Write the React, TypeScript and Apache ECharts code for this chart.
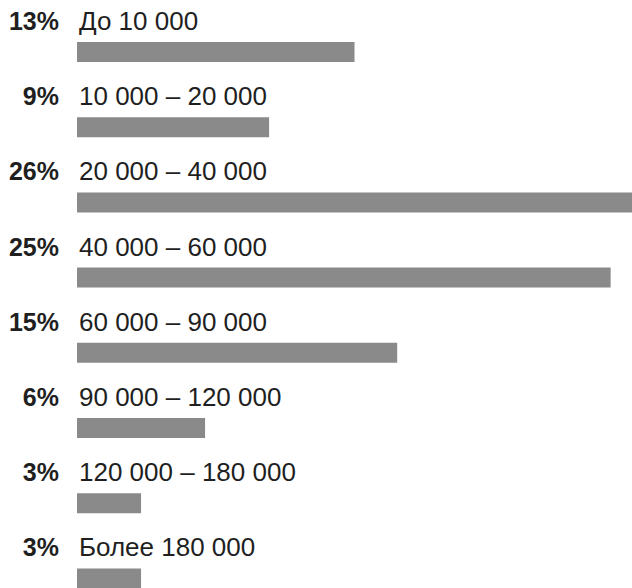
import React, { useEffect, useRef } from "react";
import * as echarts from "echarts";

const categories = [
  "До 10 000",
  "10 000 – 20 000",
  "20 000 – 40 000",
  "40 000 – 60 000",
  "60 000 – 90 000",
  "90 000 – 120 000",
  "120 000 – 180 000",
  "Более 180 000",
];
const values = [13, 9, 26, 25, 15, 6, 3, 3];
const percentLabels = values.map((v) => `${v}%`);

export default function App() {
  const ref = useRef<HTMLDivElement>(null);
  useEffect(() => {
    if (!ref.current) return;
    const chart = echarts.init(ref.current, null, { renderer: "svg" });
    chart.setOption({
      animation: false,
      backgroundColor: "#ffffff",
      grid: {
        left: 77,
        top: 14.4,
        width: 555,
        height: 601.6,
        containLabel: false,
        outerBoundsMode: "none",
      },
      xAxis: {
        type: "value",
        min: 0,
        max: 26,
        show: false,
      },
      yAxis: {
        type: "category",
        data: categories,
        inverse: true,
        axisLine: { show: false },
        axisTick: { show: false },
        splitLine: { show: false },
        axisLabel: {
          interval: 0,
          showMinLabel: true,
          showMaxLabel: true,
          hideOverlap: false,
          margin: 18,
          align: "right",
          verticalAlign: "middle",
          formatter: (_: any, i: number) => `{a|${percentLabels[i]}}\n{b|}`,
          rich: {
            a: {
              fontFamily: "Liberation Sans",
              fontWeight: "bold",
              fontSize: 25,
              lineHeight: 28,
              color: "#1f1f1f",
            },
            b: { lineHeight: 62, height: 62 },
          },
        },
      },
      series: [
        {
          type: "bar",
          data: values,
          barWidth: 20,
          itemStyle: { color: "#8a8a8a" },
          label: {
            show: true,
            position: [2, -21],
            align: "left",
            verticalAlign: "middle",
            formatter: (p: any) => categories[p.dataIndex],
            fontFamily: "Liberation Sans",
            fontSize: 26,
            color: "#1f1f1f",
          },
        },
      ],
    });
    return () => chart.dispose();
  }, []);
  return (
    <div
      ref={ref}
      style={{ position: "fixed", left: 0, top: 0, width: 632, height: 588 }}
    />
  );
}
